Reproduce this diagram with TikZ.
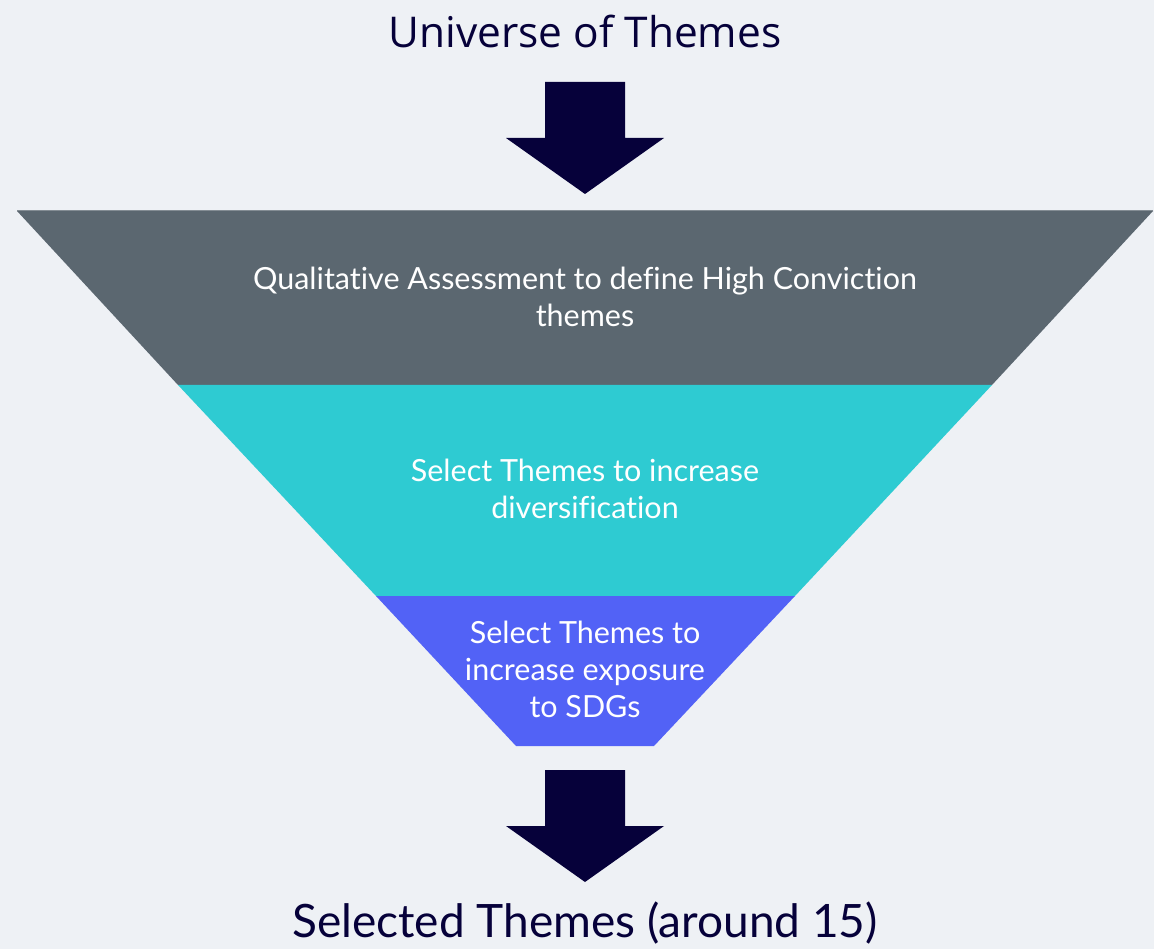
\documentclass[tikz,border=0pt]{standalone}
\usepackage{fontspec}
\setmainfont{Lato}[Ligatures=NoCommon]
\newfontfamily\titlefont{Open Sans}
\usepackage{xcolor}
\usetikzlibrary{positioning}
\definecolor{pagebg}{HTML}{EEF1F5}
\definecolor{navy}{HTML}{06013A}
\definecolor{slate}{HTML}{5B6770}
\definecolor{funnelteal}{HTML}{2ECBD2}
\definecolor{funnelblue}{HTML}{5262F6}

\begin{document}
\begin{tikzpicture}[
  x=1pt, y=-1pt,
  title/.style={text=navy, font=\fontsize{46}{52}\selectfont, inner sep=0pt},
  band/.style={text=white, align=center, inner sep=0pt,
               font=\fontsize{30.5}{37}\selectfont},
  bigarrow/.style={fill=navy}
]
\useasboundingbox (0,0) rectangle (1154,949);
\fill[pagebg] (0,0) rectangle (1154,949);

% Funnel bands
\fill[slate] (17,211) -- (1153,211) -- (992,385) -- (178,385) -- cycle;
\draw[slate!75!white, line width=1pt] (17,211) -- (1153,211);
\fill[funnelteal] (178,385) -- (992,385) -- (795,596) -- (376,596) -- cycle;
\fill[funnelblue] (376,596) -- (795,596) -- (654,746) -- (516,746) -- cycle;

% Labels
\node[title, font=\titlefont\fontsize{42.4}{48}\selectfont] (universe) at (585,31) {Universe of Themes};
\node[band] (quali) at (585,297) {Qualitative Assessment to define High Conviction\\themes};
\node[band] (divers) at (585,489) {Select Themes to increase\\diversification};
\node[band] (sdgs) at (585,669) {Select Themes to\\increase exposure\\to SDGs};
\node[title] (selected) at (585,923) {Selected Themes (around 15)};

% Block arrows
\fill[bigarrow] (545,82) -- (625,82) -- (625,138) -- (664,138) -- (585,194)
  -- (506,138) -- (545,138) -- cycle;
\fill[bigarrow] (545,770) -- (625,770) -- (625,826) -- (664,826) -- (585,882)
  -- (506,826) -- (545,826) -- cycle;

\end{tikzpicture}
\end{document}
